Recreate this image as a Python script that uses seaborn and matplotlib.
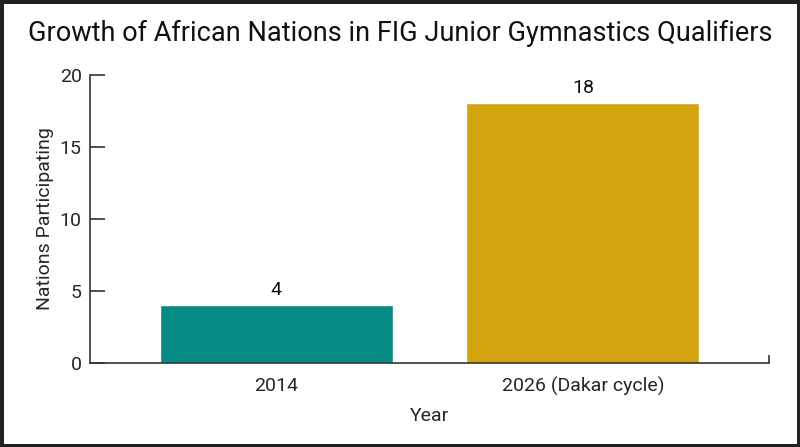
import pandas as pd
import matplotlib
matplotlib.use("Agg")
import matplotlib.pyplot as plt
import seaborn as sns

years = ["2014", "2026 (Dakar cycle)"]
nations = [4, 18]
bar_colors = ["#068A85", "#D4A40E"]
y_ticks = [0, 5, 10, 15, 20]

sns.set_theme(style="white")
plt.rcParams['font.family'] = ['Roboto', 'DejaVu Sans']

df = pd.DataFrame({"Year": years, "Nations": nations})

fig = plt.figure(figsize=(8, 4.47), dpi=100)
ax = fig.add_axes([0.1125, 0.188, 0.8488, 0.645])

sns.barplot(data=df, x="Year", y="Nations", hue="Year", palette=bar_colors,
            width=0.76, saturation=1, legend=False, ax=ax)

for i, v in enumerate(nations):
    ax.text(i, v + 0.45, str(v), ha='center', va='bottom', fontsize=14, color='#111111')

ax.set_ylim(0, 20)
ax.set_xlim(-0.608, 1.607)
ax.set_yticks(y_ticks)
ax.tick_params(axis='y', direction='in', length=11, width=1.2, color='#333333',
               labelsize=14, pad=6, left=True)
ax.tick_params(axis='x', length=0, labelsize=14, pad=10)
ax.set_xticks([0, 1], minor=False)
ax.set_xticks([1.607], minor=True)
ax.tick_params(axis='x', which='minor', direction='in', length=6, width=1.2,
               color='#333333', bottom=True)

for side in ['top', 'right']:
    ax.spines[side].set_visible(False)
for side in ['left', 'bottom']:
    ax.spines[side].set_color('#333333')
    ax.spines[side].set_linewidth(1.2)

ax.set_xlabel("Year", fontsize=14, labelpad=8)
ax.set_ylabel("Nations Participating", fontsize=14, labelpad=4)

fig.suptitle("Growth of African Nations in FIG Junior Gymnastics Qualifiers",
             fontsize=19.5, y=0.955, color='#111111')

fig.patch.set_edgecolor('#222222')
fig.patch.set_linewidth(5)

fig.savefig("out.png", dpi=100, edgecolor=fig.get_edgecolor())
